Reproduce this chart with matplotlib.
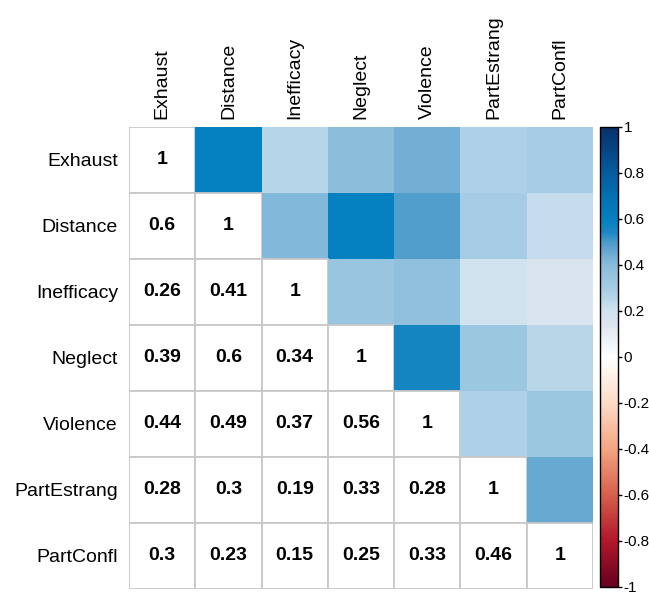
import numpy as np
import matplotlib
matplotlib.use("Agg")
import matplotlib.pyplot as plt
from matplotlib.patches import Rectangle
from matplotlib.colors import LinearSegmentedColormap, Normalize

plt.rcParams['font.family'] = ['Liberation Sans', 'DejaVu Sans']
plt.rcParams['axes.unicode_minus'] = False

labels = ['Exhaust', 'Distance', 'Inefficacy', 'Neglect', 'Violence',
          'PartEstrang', 'PartConfl']

# lower triangle of the correlation matrix, row by row
lower = [
    [],
    [0.60],
    [0.26, 0.41],
    [0.39, 0.60, 0.34],
    [0.44, 0.49, 0.37, 0.56],
    [0.28, 0.30, 0.19, 0.33, 0.28],
    [0.30, 0.23, 0.15, 0.25, 0.33, 0.46],
]

# colour anchors picked from the reference colour bar
anchor_vals = [-1.0, -0.8, -0.6, -0.4, -0.2, 0.0, 0.15, 0.2, 0.3, 0.4,
               0.44, 0.5, 0.55, 0.6, 0.7, 0.8, 1.0]
anchor_cols = ['#67001F', '#B2182B', '#D6604D', '#F4A582', '#FDDBC7',
               '#FFFFFF', '#DAE4EF', '#D1E3F0', '#A6CCE4', '#88BCDA',
               '#75B0D5', '#4A9ACB', '#1A86C3', '#0580C0', '#0570B0',
               '#055DA0', '#08306B']


def main():
    n = len(labels)
    corr = np.eye(n)
    for i, row in enumerate(lower):
        for j, v in enumerate(row):
            corr[i, j] = v
            corr[j, i] = v

    cmap = LinearSegmentedColormap.from_list(
        'corr', [((v + 1) / 2, c) for v, c in zip(anchor_vals, anchor_cols)])
    norm = Normalize(-1, 1)

    fig = plt.figure(figsize=(6.49, 5.95), dpi=100)
    W, H = 649, 595
    ax = fig.add_axes([129 / W, 1 - 589 / H, 464 / W, 462 / H])
    ax.set_xlim(0, n)
    ax.set_ylim(n, 0)

    for i in range(n):
        for j in range(n):
            if j > i:
                ax.add_patch(Rectangle((j, i), 1, 1, facecolor=cmap(norm(corr[i, j])),
                                       edgecolor='none'))
            else:
                ax.add_patch(Rectangle((j, i), 1, 1, facecolor='white',
                                       edgecolor='#c8c8c8', linewidth=1.3))
                txt = '%g' % round(corr[i, j], 2)
                ax.text(j + 0.5, i + 0.5, txt, ha='center', va='center',
                        fontsize=14, fontweight='bold', color='black')

    for s in ax.spines.values():
        s.set_visible(False)
    ax.set_xticks(np.arange(n) + 0.5)
    ax.set_yticks(np.arange(n) + 0.5)
    ax.set_xticklabels(labels, rotation=90, fontsize=14)
    ax.set_yticklabels(labels, fontsize=14)
    ax.xaxis.tick_top()
    ax.tick_params(axis='y', length=0, pad=8)
    ax.tick_params(axis='x', length=0, pad=6)

    # colour bar
    ticks = np.round(np.arange(-1, 1.01, 0.2), 1)
    cax = fig.add_axes([600 / W, 1 - 587 / H, 18 / W, 460 / H])
    sm = matplotlib.cm.ScalarMappable(norm=norm, cmap=cmap)
    cb = fig.colorbar(sm, cax=cax, ticks=ticks)
    cb.ax.set_yticklabels(['%g' % (t + 0.0) for t in ticks])
    cb.ax.tick_params(labelsize=11, length=3, width=1, pad=1)
    cb.outline.set_linewidth(1)

    fig.savefig('out.png', dpi=100)


if __name__ == "__main__":
    main()
